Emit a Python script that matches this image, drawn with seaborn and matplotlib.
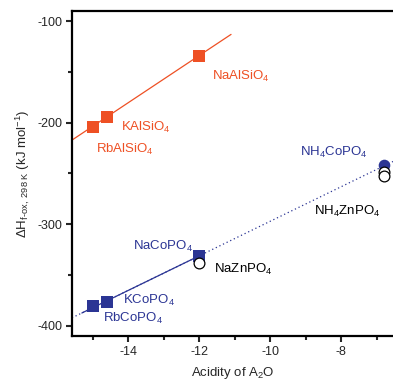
import numpy as np
import pandas as pd
import matplotlib
matplotlib.use("Agg")
import matplotlib.pyplot as plt
import seaborn as sns

# ---- data ----
al_names = ["RbAlSiO$_4$", "KAlSiO$_4$", "NaAlSiO$_4$"]
al_x = [-15.0, -14.6, -12.0]
al_y = [-204, -194, -134]

co_names = ["RbCoPO$_4$", "KCoPO$_4$", "NaCoPO$_4$", "NH$_4$CoPO$_4$"]
co_x = [-15.0, -14.6, -12.0, -6.8]
co_y = [-381, -377, -331, -242]

zn_names = ["NaZnPO$_4$", "NH$_4$ZnPO$_4$", "NH$_4$ZnPO$_4$"]
zn_x = [-12.0, -6.8, -6.8]
zn_y = [-338, -249, -252]

sns.set_style("ticks")
plt.rcParams["font.family"] = ["Liberation Sans", "DejaVu Sans"]
plt.rcParams["mathtext.fontset"] = "custom"
plt.rcParams["mathtext.rm"] = "Liberation Sans"
plt.rcParams["mathtext.it"] = "Liberation Sans:italic"
plt.rcParams["mathtext.bf"] = "Liberation Sans:bold"
plt.rcParams["axes.unicode_minus"] = False

ORANGE = "#EE5024"
BLUE = "#2B3594"

fig = plt.figure(figsize=(3.93, 3.80), dpi=100)
ax = fig.add_axes([0.183, 0.116, 0.817, 0.855])

XMIN, XMAX = -15.58, -6.54

# fit lines
pa = np.polyfit(al_x[:3], al_y[:3], 1)
xa = np.array([XMIN, -11.1])
sns.lineplot(x=xa, y=np.polyval(pa, xa), color=ORANGE, lw=0.9, ax=ax, zorder=2)

pc = np.polyfit(co_x[:3], co_y[:3], 1)
xd = np.array([XMIN, XMAX])
sns.lineplot(x=xd, y=np.polyval(pc, xd), color=BLUE, lw=0.9, ax=ax,
             linestyle=(0, (1, 2.2)), zorder=2)
xs = np.array([-15.3, -12.0])
sns.lineplot(x=xs, y=np.polyval(pc, xs), color=BLUE, lw=0.9, ax=ax, zorder=2)

# markers
sns.scatterplot(x=al_x, y=al_y, marker="s", s=70, color=ORANGE, edgecolor=ORANGE,
                linewidth=0, ax=ax, zorder=4)
sns.scatterplot(x=co_x[:3], y=co_y[:3], marker="s", s=70, color=BLUE, edgecolor=BLUE,
                linewidth=0, ax=ax, zorder=4)
sns.scatterplot(x=co_x[3:], y=co_y[3:], marker="o", s=70, color=BLUE, edgecolor=BLUE,
                linewidth=0, ax=ax, zorder=3, clip_on=False)
sns.scatterplot(x=zn_x, y=zn_y, marker="o", s=60, facecolor="white", edgecolor="black",
                linewidth=0.9, ax=ax, zorder=5, clip_on=False)

# labels
fs = 9.5
lab = [
    (al_names[2], -11.63, -154, ORANGE),
    (al_names[1], -14.2, -205, ORANGE),
    (al_names[0], -14.9, -226, ORANGE),
    (co_names[3], -9.16, -229, BLUE),
    (zn_names[1], -8.76, -287, "black"),
    (co_names[2], -13.86, -322, BLUE),
    (zn_names[0], -11.58, -345, "black"),
    (co_names[1], -14.14, -375, BLUE),
    (co_names[0], -14.7, -393, BLUE),
]
for t, x, y, c in lab:
    ax.text(x, y, t, color=c, fontsize=fs, ha="left", va="center")

ax.set_xlim(XMIN, XMAX)
ax.set_ylim(-410, -90)
ax.set_xticks([-14, -12, -10, -8])
ax.set_xticks([-15, -13, -11, -9, -7], minor=True)
ax.set_yticks([-100, -200, -300, -400])
ax.set_yticks([-150, -250, -350], minor=True)
ax.tick_params(axis="both", which="major", length=4, width=1.5, labelsize=9, pad=3)
ax.tick_params(axis="both", which="minor", length=3, width=1.5)
for s in ["left", "bottom", "top"]:
    ax.spines[s].set_linewidth(1.6)
    ax.spines[s].set_color("black")
ax.spines["right"].set_visible(False)
ax.tick_params(top=False, right=False)

ax.set_xlabel("Acidity of A$_2$O", fontsize=9.5, labelpad=5)
ax.set_ylabel(r"$\Delta$H$_{\mathrm{f\text{-}ox,\ 298\ K}}$ (kJ mol$^{-1}$)", fontsize=9.5,
              labelpad=4)

fig.savefig("out.png", dpi=100)
